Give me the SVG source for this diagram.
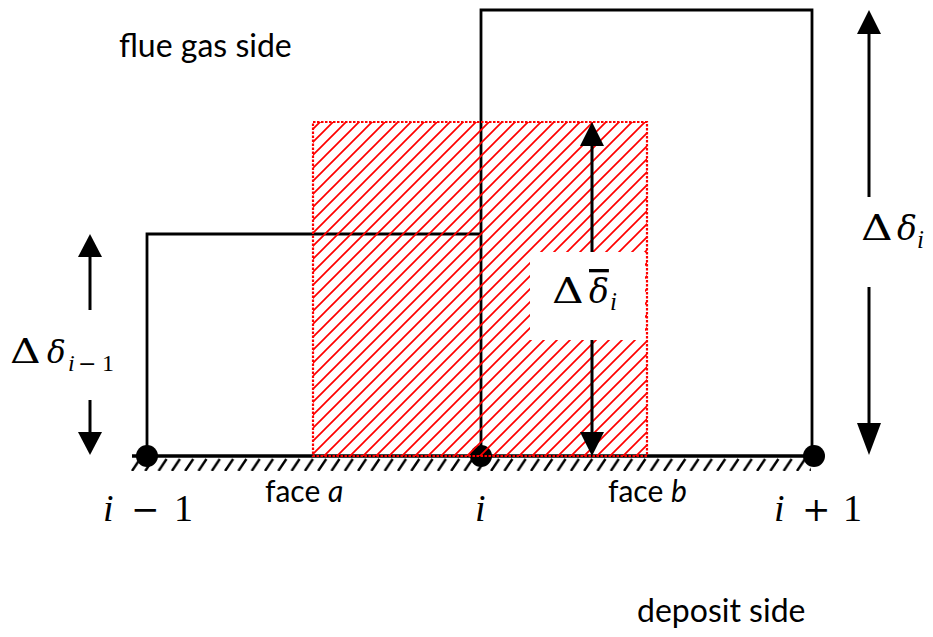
<svg xmlns="http://www.w3.org/2000/svg" width="933" height="637" viewBox="0 0 933 637">
<style>
.side{font-family:Lato,"Open Sans","Liberation Sans",sans-serif;font-size:32px;fill:#000}
.face{font-family:Lato,"Open Sans","Liberation Sans",sans-serif;font-size:30px;fill:#000}
.math{font-family:"Liberation Serif","DejaVu Serif",serif;fill:#000}
.op{font-family:"DejaVu Serif",serif}
.gr{font-family:"DejaVu Serif",serif}
.it{font-style:italic}
.bar{text-decoration:overline}
.outline{fill:none;stroke:#000;stroke-width:2.8}
.arrow{stroke:#000;stroke-width:3;fill:none}
.head{fill:#000}
</style>
<defs>
<pattern id="redhatch" patternUnits="userSpaceOnUse" width="13" height="13">
<path d="M0,13 L13,0 M-3,3 L3,-3 M10,16 L16,10" stroke="#ff0000" stroke-width="1.7"/>
</pattern>
<pattern id="ground" patternUnits="userSpaceOnUse" x="131" y="458" width="13.3" height="13">
<path d="M1,13 L9,1" stroke="#000" stroke-width="2.4"/>
</pattern>
</defs>
<rect width="933" height="637" fill="#fff"/>
<g id="ground-hatch">
<rect x="131" y="458" width="680" height="13" fill="url(#ground)"/>
<line x1="132" y1="456" x2="814" y2="456" stroke="#000" stroke-width="3.4"/>
</g>
<g id="cell-i-1">
<path class="outline" d="M147,456 V234 H481"/>
</g>
<g id="cell-i">
<path class="outline" d="M481,456 V10 H812 V456"/>
</g>
<g id="node-i-1"><circle cx="147" cy="456" r="11" fill="#000"/></g>
<g id="node-i"><circle cx="481" cy="456" r="11" fill="#000"/></g>
<g id="node-i+1"><circle cx="814" cy="456" r="11" fill="#000"/></g>
<g id="avg-region">
<rect x="313" y="122" width="334" height="334" fill="url(#redhatch)" stroke="#ff0000" stroke-width="2.2" stroke-dasharray="2.5,1.5"/>
</g>
<g id="connectors">
<line class="arrow" x1="592" y1="144" x2="592" y2="434" stroke-width="3.5"/>
<polygon class="head" points="592,122 580,146 604,146"/>
<polygon class="head" points="592,456 580,432 604,432"/>
<line class="arrow" x1="90" y1="254" x2="90" y2="310"/>
<polygon class="head" points="90,234 78,257 102,257"/>
<line class="arrow" x1="90" y1="400" x2="90" y2="434"/>
<polygon class="head" points="90,455 78,432 102,432"/>
<line class="arrow" x1="869" y1="30" x2="869" y2="197"/>
<polygon class="head" points="869,10 857,34 881,34"/>
<line class="arrow" x1="869" y1="287" x2="869" y2="426"/>
<polygon class="head" points="869,455 857,423 881,423"/>
</g>
<g id="label-avg">
<rect x="530" y="252" width="115" height="88" fill="#fff"/>
<text class="math gr" font-size="36" transform="translate(552,303) scale(1.22,1)">Δ</text>
<text class="math" y="303"><tspan class="gr it bar" x="589" font-size="33">δ</tspan><tspan class="it" x="610" y="310" font-size="25">i</tspan></text>
</g>
<g id="label-left">
<text class="math gr" font-size="34" transform="translate(10,363) scale(1.25,1)">Δ</text>
<text class="math" y="363"><tspan class="gr it" x="47" font-size="31">δ</tspan><tspan class="it" x="68" y="371" font-size="24">i</tspan><tspan class="op" x="78" y="371" font-size="22">−</tspan><tspan x="102" y="371" font-size="24">1</tspan></text>
</g>
<g id="label-right">
<text class="math gr" font-size="36" transform="translate(861,240) scale(1.22,1)">Δ</text>
<text class="math" y="240"><tspan class="gr it" x="897" font-size="33">δ</tspan><tspan class="it" x="917" y="248" font-size="25">i</tspan></text>
</g>
<g id="texts">
<text class="side" x="119" y="57">flue gas side</text>
<text class="side" x="637" y="622">deposit side</text>
<text class="face" x="265" y="502">face <tspan font-style="italic">a</tspan></text>
<text class="face" x="608" y="502">face <tspan font-style="italic">b</tspan></text>
<text class="math" y="521"><tspan class="it" x="103" font-size="38">i</tspan><tspan class="op" x="131" font-size="34">−</tspan><tspan x="174" font-size="38">1</tspan></text>
<text class="math it" x="475" y="521" font-size="38">i</text>
<text class="math" y="521"><tspan class="it" x="774" font-size="38">i</tspan><tspan class="op" x="802" font-size="34">+</tspan><tspan x="843" font-size="38">1</tspan></text>
</g>
</svg>
